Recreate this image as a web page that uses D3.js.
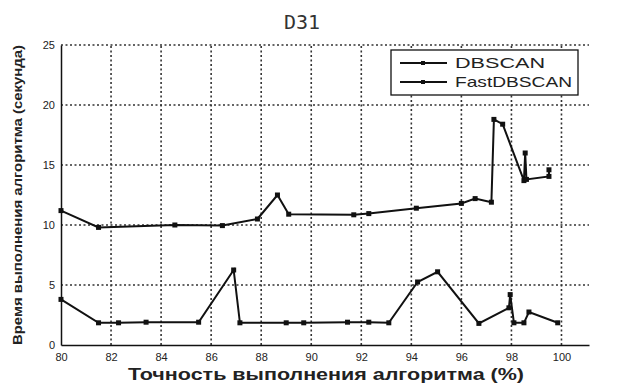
<!DOCTYPE html>
<html>
<head>
<meta charset="utf-8">
<script src="https://cdn.jsdelivr.net/npm/d3@7"></script>
<style>
  body { margin: 0; background: #fff; }
  svg text { font-family: "Liberation Sans", Arial, sans-serif; }
</style>
</head>
<body>
<div id="wrapper"></div>
<script>
// values
const dbscanX = [80, 81.5, 84.55, 86.45, 87.85, 88.65, 89.1, 91.7, 92.3, 94.2, 96.0, 96.55, 97.2, 97.3, 97.65, 98.5, 98.55, 98.6, 99.5, 99.5];
const dbscanY = [11.2, 9.8, 10.0, 9.95, 10.5, 12.5, 10.9, 10.85, 10.95, 11.4, 11.8, 12.2, 11.9, 18.8, 18.4, 13.7, 16.0, 13.8, 14.05, 14.6];
const fastX = [80, 81.5, 82.3, 83.4, 85.5, 86.9, 87.15, 89.0, 89.7, 91.45, 92.3, 93.1, 94.25, 95.05, 96.7, 97.9, 97.95, 98.1, 98.5, 98.7, 99.85];
const fastY = [3.8, 1.85, 1.85, 1.9, 1.9, 6.25, 1.85, 1.85, 1.85, 1.9, 1.9, 1.85, 5.25, 6.1, 1.8, 3.1, 4.2, 1.85, 1.85, 2.75, 1.85];
const seriesNames = ["DBSCAN", "FastDBSCAN"];
const xTicks = [80, 82, 84, 86, 88, 90, 92, 94, 96, 98, 100];
const yTicks = [0, 5, 10, 15, 20, 25];

const W = 644, H = 385;
const margin = { left: 61, top: 45, right: 55, bottom: 40 };

const svg = d3.select("#wrapper").append("svg")
  .attr("width", W).attr("height", H);

const x = d3.scaleLinear().domain([80, 101.1]).range([margin.left, W - margin.right]);
const y = d3.scaleLinear().domain([0, 25]).range([H - margin.bottom, margin.top]);

// grid
const grid = svg.append("g")
  .attr("stroke", "#333").attr("stroke-width", 1.6).attr("stroke-dasharray", "2,2.5");
grid.selectAll("line.v").data(xTicks.slice(1)).enter().append("line")
  .attr("x1", d => x(d)).attr("x2", d => x(d))
  .attr("y1", y(0)).attr("y2", y(25));
grid.selectAll("line.h").data(yTicks.slice(1)).enter().append("line")
  .attr("x1", x(80)).attr("x2", x(101.1))
  .attr("y1", d => y(d)).attr("y2", d => y(d));

// axes
const xAxis = svg.append("g")
  .attr("transform", `translate(0,${y(0)})`)
  .call(d3.axisBottom(x).tickValues(xTicks).tickSize(0).tickPadding(8));
xAxis.select(".domain").attr("stroke", "#111").attr("stroke-width", 1.5);
xAxis.selectAll("text").attr("font-size", 11).attr("fill", "#222");

const yAxis = svg.append("g")
  .attr("transform", `translate(${x(80)},0)`)
  .call(d3.axisLeft(y).tickValues(yTicks).tickSize(0).tickPadding(6));
yAxis.select(".domain").attr("stroke", "#111").attr("stroke-width", 1.5);
yAxis.selectAll("text").attr("font-size", 11).attr("fill", "#222");

// series
const line = d3.line().x(d => x(d[0])).y(d => y(d[1]));
const series = [
  d3.zip(dbscanX, dbscanY),
  d3.zip(fastX, fastY)
];
series.forEach(pts => {
  svg.append("path")
    .attr("d", line(pts))
    .attr("fill", "none").attr("stroke", "#111").attr("stroke-width", 2);
  svg.append("g").selectAll("rect").data(pts).enter().append("rect")
    .attr("x", d => x(d[0]) - 2.5).attr("y", d => y(d[1]) - 2.5)
    .attr("width", 5).attr("height", 5).attr("fill", "#111");
});

// legend
const lg = svg.append("g");
lg.append("rect").attr("x", 391).attr("y", 50).attr("width", 187).attr("height", 45)
  .attr("fill", "#fff").attr("stroke", "#111").attr("stroke-width", 1.3);
const legendWidths = [90, 117];
seriesNames.forEach((name, i) => {
  const ly = 63 + i * 19;
  lg.append("line").attr("x1", 400).attr("x2", 447).attr("y1", ly).attr("y2", ly)
    .attr("stroke", "#111").attr("stroke-width", 1.8);
  lg.append("rect").attr("x", 421).attr("y", ly - 2).attr("width", 4).attr("height", 4).attr("fill", "#111");
  lg.append("text").attr("x", 455).attr("y", ly + 5).text(name)
    .attr("font-size", 15).attr("fill", "#222")
    .attr("textLength", legendWidths[i]).attr("lengthAdjust", "spacingAndGlyphs");
});

// title and labels
svg.append("text").attr("x", 302).attr("y", 29).attr("text-anchor", "middle")
  .attr("font-size", 20).attr("fill", "#333")
  .style("font-family", "'DejaVu Sans Mono', monospace").text("D31");

svg.append("text").attr("x", 326).attr("y", 380).attr("text-anchor", "middle")
  .attr("font-size", 17).attr("font-weight", "bold").attr("fill", "#222")
  .attr("textLength", 396).attr("lengthAdjust", "spacingAndGlyphs")
  .text("Точность выполнения алгоритма (%)");

svg.append("text")
  .attr("transform", `translate(22,${(y(0) + y(25)) / 2}) rotate(-90)`)
  .attr("text-anchor", "middle").attr("font-size", 13.5).attr("font-weight", "bold").attr("fill", "#222")
  .attr("textLength", 300).attr("lengthAdjust", "spacingAndGlyphs")
  .text("Время выполнения алгоритма (секунда)");
</script>
</body>
</html>
